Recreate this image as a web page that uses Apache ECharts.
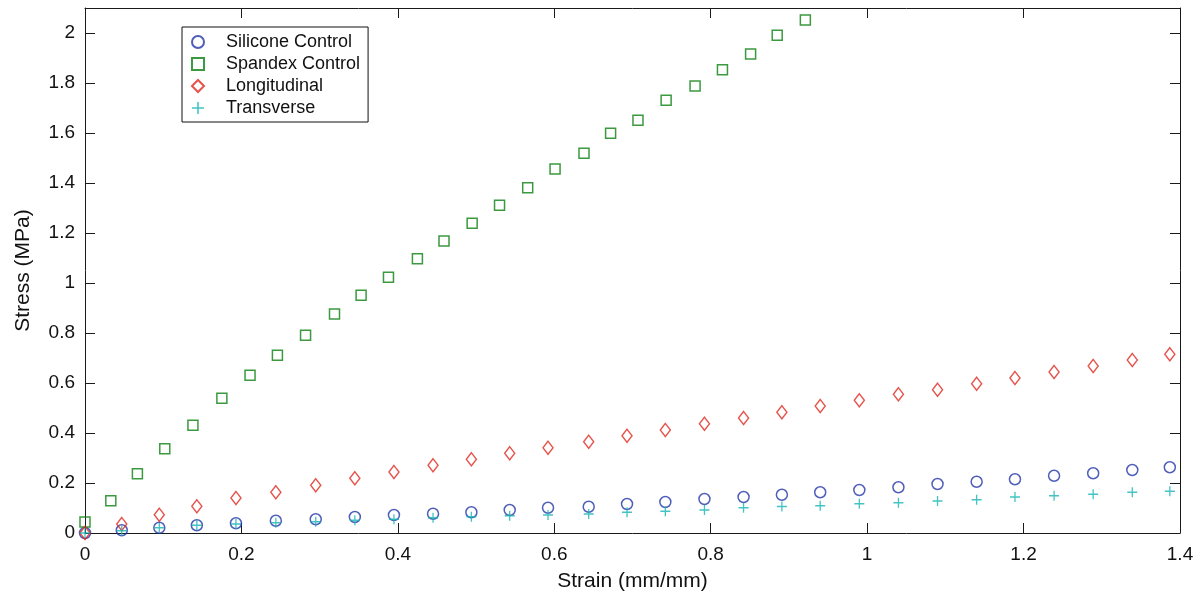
<!DOCTYPE html>
<html>
<head>
<meta charset="utf-8">
<script src="https://cdn.jsdelivr.net/npm/echarts@6/dist/echarts.min.js"></script>
<style>
  html, body { margin: 0; padding: 0; background: #fff; }
  #chart { width: 1202px; height: 600px; }
</style>
</head>
<body>
<div id="chart"></div>
<script>
// Strain sampled for the composite and silicone specimens (mm/mm)
const strain = [0, 0.047, 0.095, 0.143, 0.193, 0.244, 0.295, 0.345, 0.395, 0.445, 0.494, 0.543, 0.592, 0.644, 0.693, 0.742, 0.792, 0.842, 0.891, 0.940, 0.990, 1.040, 1.090, 1.140, 1.189, 1.239, 1.289, 1.339, 1.387];
// Stress (MPa)
const siliconeStress = [0, 0.011, 0.021, 0.031, 0.039, 0.049, 0.055, 0.064, 0.072, 0.077, 0.083, 0.092, 0.101, 0.105, 0.116, 0.124, 0.136, 0.144, 0.153, 0.163, 0.172, 0.183, 0.196, 0.205, 0.215, 0.229, 0.239, 0.252, 0.263];
const longitudinalStress = [0, 0.036, 0.073, 0.107, 0.140, 0.163, 0.191, 0.219, 0.244, 0.271, 0.295, 0.319, 0.341, 0.365, 0.389, 0.412, 0.437, 0.460, 0.483, 0.508, 0.531, 0.555, 0.573, 0.597, 0.620, 0.644, 0.668, 0.692, 0.715];
const transverseStress = [0, 0.009, 0.021, 0.031, 0.036, 0.041, 0.045, 0.051, 0.055, 0.061, 0.065, 0.069, 0.072, 0.076, 0.083, 0.087, 0.092, 0.101, 0.106, 0.109, 0.117, 0.121, 0.128, 0.133, 0.144, 0.149, 0.155, 0.163, 0.167];

// Spandex control has its own strain sampling
const spandexStrain = [0, 0.033, 0.067, 0.102, 0.138, 0.175, 0.211, 0.246, 0.282, 0.319, 0.353, 0.388, 0.425, 0.459, 0.495, 0.530, 0.566, 0.601, 0.638, 0.672, 0.707, 0.743, 0.780, 0.815, 0.851, 0.885, 0.921];
const spandexStress = [0.044, 0.129, 0.237, 0.337, 0.431, 0.539, 0.631, 0.711, 0.791, 0.876, 0.951, 1.023, 1.097, 1.168, 1.239, 1.311, 1.381, 1.456, 1.519, 1.599, 1.651, 1.731, 1.788, 1.853, 1.916, 1.991, 2.052];

const seriesNames = ['Silicone Control', 'Spandex Control', 'Longitudinal', 'Transverse'];

const zip = (xs, ys) => xs.map((x, i) => [x, ys[i]]);
const FONT = '"Liberation Sans", Arial, Helvetica, sans-serif';
const AXIS_COLOR = '#1a1a1a';
const PLUS = 'path://M0,4.35H10V5.65H0Z M4.35,0H5.65V10H4.35Z';

const hollow = (color) => ({ color: 'rgba(0,0,0,0)', borderColor: color, borderWidth: 1.5 });

const chart = echarts.init(document.getElementById('chart'), null, { renderer: 'canvas' });

const tickFmt = (v) => String(Math.round(v * 10) / 10);

// shared frame settings: ticks point into the plot on all four sides
const frameLine = { show: true, onZero: false, lineStyle: { color: AXIS_COLOR, width: 1 } };
const frameTick = { show: true, inside: true, length: 10, lineStyle: { color: AXIS_COLOR } };

chart.setOption({
  animation: false,
  backgroundColor: '#fff',
  textStyle: { fontFamily: FONT },
  grid: { left: 85, top: 8, right: 22, bottom: 67, containLabel: false },
  legend: {
    orient: 'vertical',
    left: 182,
    top: 27,
    data: seriesNames,
    backgroundColor: '#fff',
    borderColor: '#111',
    borderWidth: 1,
    padding: [6, 8, 5, 9],
    itemWidth: 12,
    itemHeight: 12,
    itemGap: 4,
    textStyle: { fontFamily: FONT, fontSize: 18, color: '#111', padding: [0, 0, 0, 17], lineHeight: 18 }
  },
  xAxis: [
    {
      type: 'value',
      min: 0, max: 1.4, interval: 0.2,
      name: 'Strain (mm/mm)',
      nameLocation: 'middle',
      nameGap: 38,
      nameTextStyle: { fontFamily: FONT, fontSize: 21, color: '#111' },
      axisLine: frameLine,
      axisTick: frameTick,
      axisLabel: { fontFamily: FONT, fontSize: 19, color: '#111', margin: 12, formatter: tickFmt },
      splitLine: { show: false }
    },
    {
      type: 'value', position: 'top',
      min: 0, max: 1.4, interval: 0.2,
      axisLine: frameLine,
      axisTick: frameTick,
      axisLabel: { show: false },
      splitLine: { show: false }
    }
  ],
  yAxis: [
    {
      type: 'value',
      min: 0, max: 2.1, interval: 0.2,
      name: 'Stress (MPa)',
      nameLocation: 'middle',
      nameGap: 51,
      nameTextStyle: { fontFamily: FONT, fontSize: 21, color: '#111' },
      axisLine: frameLine,
      axisTick: frameTick,
      axisLabel: { fontFamily: FONT, fontSize: 19, color: '#111', margin: 10, showMaxLabel: false, formatter: tickFmt },
      splitLine: { show: false }
    },
    {
      type: 'value', position: 'right',
      min: 0, max: 2.1, interval: 0.2,
      axisLine: frameLine,
      axisTick: frameTick,
      axisLabel: { show: false },
      splitLine: { show: false }
    }
  ],
  series: [
    {
      name: seriesNames[0], type: 'scatter',
      data: zip(strain, siliconeStress),
      symbol: 'circle', symbolSize: 11,
      itemStyle: hollow('#2336a8'), z: 3
    },
    {
      name: seriesNames[1], type: 'scatter',
      data: zip(spandexStrain, spandexStress),
      symbol: 'rect', symbolSize: 10,
      itemStyle: hollow('#0a8010'), z: 3
    },
    {
      name: seriesNames[2], type: 'scatter',
      data: zip(strain, longitudinalStress),
      symbol: 'diamond', symbolSize: [10, 13],
      itemStyle: hollow('#e0281f'), z: 3
    },
    {
      name: seriesNames[3], type: 'scatter',
      data: zip(strain, transverseStress),
      symbol: PLUS, symbolSize: 10,
      itemStyle: { color: '#14b4b4' }, z: 4
    }
  ]
});
</script>
</body>
</html>
